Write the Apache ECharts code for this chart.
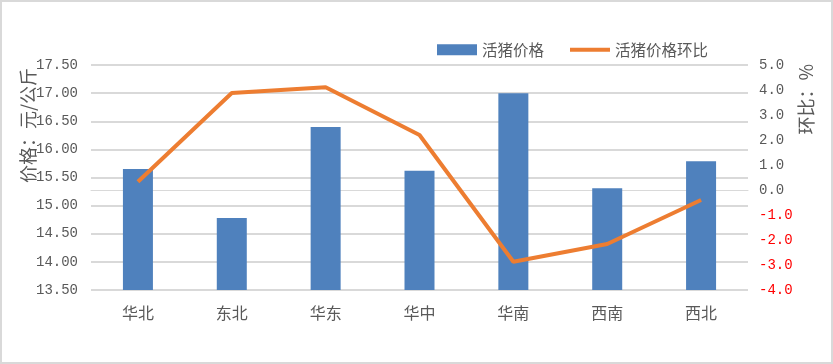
<!DOCTYPE html>
<html><head><meta charset="utf-8">
<script src="https://cdn.jsdelivr.net/npm/echarts@6/dist/echarts.min.js"></script>
<style>
html,body{margin:0;padding:0;background:#fff;}
#frame{position:absolute;left:0;top:0;width:833px;height:364px;box-sizing:border-box;border:2px solid #d9d9d9;}
#c{position:absolute;left:0;top:0;width:833px;height:364px;}
</style></head>
<body><div id="frame"></div><div id="c"></div>
<script>
const categories = ['华北','东北','华东','华中','华南','西南','西北'];
const priceValues = [15.65, 14.78, 16.40, 15.62, 17.00, 15.31, 15.79];
const changeValues = [0.33, 3.88, 4.11, 2.20, -2.87, -2.16, -0.40];
const leftTicks = {min: 13.5, max: 17.5, interval: 0.5};
const rightTicks = {min: -4, max: 5, interval: 1};
const seriesNames = ['活猪价格', '活猪价格环比'];

const chart = echarts.init(document.getElementById('c'));
const numFont = 'Liberation Mono';
const cjkFont = '"Noto Sans CJK SC"';
chart.setOption({
  animation: false,
  backgroundColor: 'transparent',
  grid: {left: 91, right: 85, top: 65, bottom: 74},
  legend: {
    top: 37, left: 432,
    itemGap: 26,
    textStyle: {fontFamily: cjkFont, fontSize: 15.5, color: '#595959'},
    data: [
      {name: seriesNames[0], icon: 'rect', itemStyle: {color: '#4f81bd'}},
      {name: seriesNames[1], icon: 'path://M0,0 L40,0 L40,4 L0,4 Z', itemStyle: {color: '#ed7d31'}}
    ],
    itemWidth: 40, itemHeight: 11
  },
  xAxis: {
    type: 'category', data: categories,
    axisLine: {lineStyle: {color: '#d9d9d9', width: 1}},
    axisTick: {show: false},
    axisLabel: {fontFamily: cjkFont, fontSize: 16, color: '#595959', margin: 15}
  },
  yAxis: [
    {
      type: 'value', min: leftTicks.min, max: leftTicks.max, interval: leftTicks.interval,
      axisLine: {show: false}, axisTick: {show: false},
      splitLine: {lineStyle: {color: '#d9d9d9', width: 2}},
      axisLabel: {fontFamily: numFont, fontSize: 14, color: '#595959', margin: 13,
        formatter: v => v.toFixed(2)}
    },
    {
      type: 'value', min: rightTicks.min, max: rightTicks.max, interval: rightTicks.interval,
      axisLine: {show: false}, axisTick: {show: false}, splitLine: {show: false},
      axisLabel: {fontFamily: numFont, fontSize: 14, margin: 11,
        formatter: v => v < 0 ? '{n|' + v.toFixed(1) + '}' : '{p|' + v.toFixed(1) + '}',
        rich: {
          n: {color: '#ff0000', fontFamily: numFont, fontSize: 14},
          p: {color: '#595959', fontFamily: numFont, fontSize: 14}
        }}
    }
  ],
  graphic: [
    {type: 'text', left: 19, top: 68, rotation: Math.PI/2,
      style: {text: '价格：元/公斤', font: '18px "Noto Sans CJK SC"', fill: '#595959'}},
    {type: 'text', left: 797, top: 64, rotation: Math.PI/2,
      style: {text: '环比：%', font: '18px "Noto Sans CJK SC"', fill: '#595959'}}
  ],
  series: [
    {name: seriesNames[0], type: 'bar', data: priceValues, barWidth: 30,
      itemStyle: {color: '#4f81bd'}, yAxisIndex: 0},
    {name: seriesNames[1], type: 'line', data: changeValues, yAxisIndex: 1,
      symbol: 'none', lineStyle: {color: '#ed7d31', width: 4},
      itemStyle: {color: '#ed7d31'}}
  ]
});
</script></body></html>
